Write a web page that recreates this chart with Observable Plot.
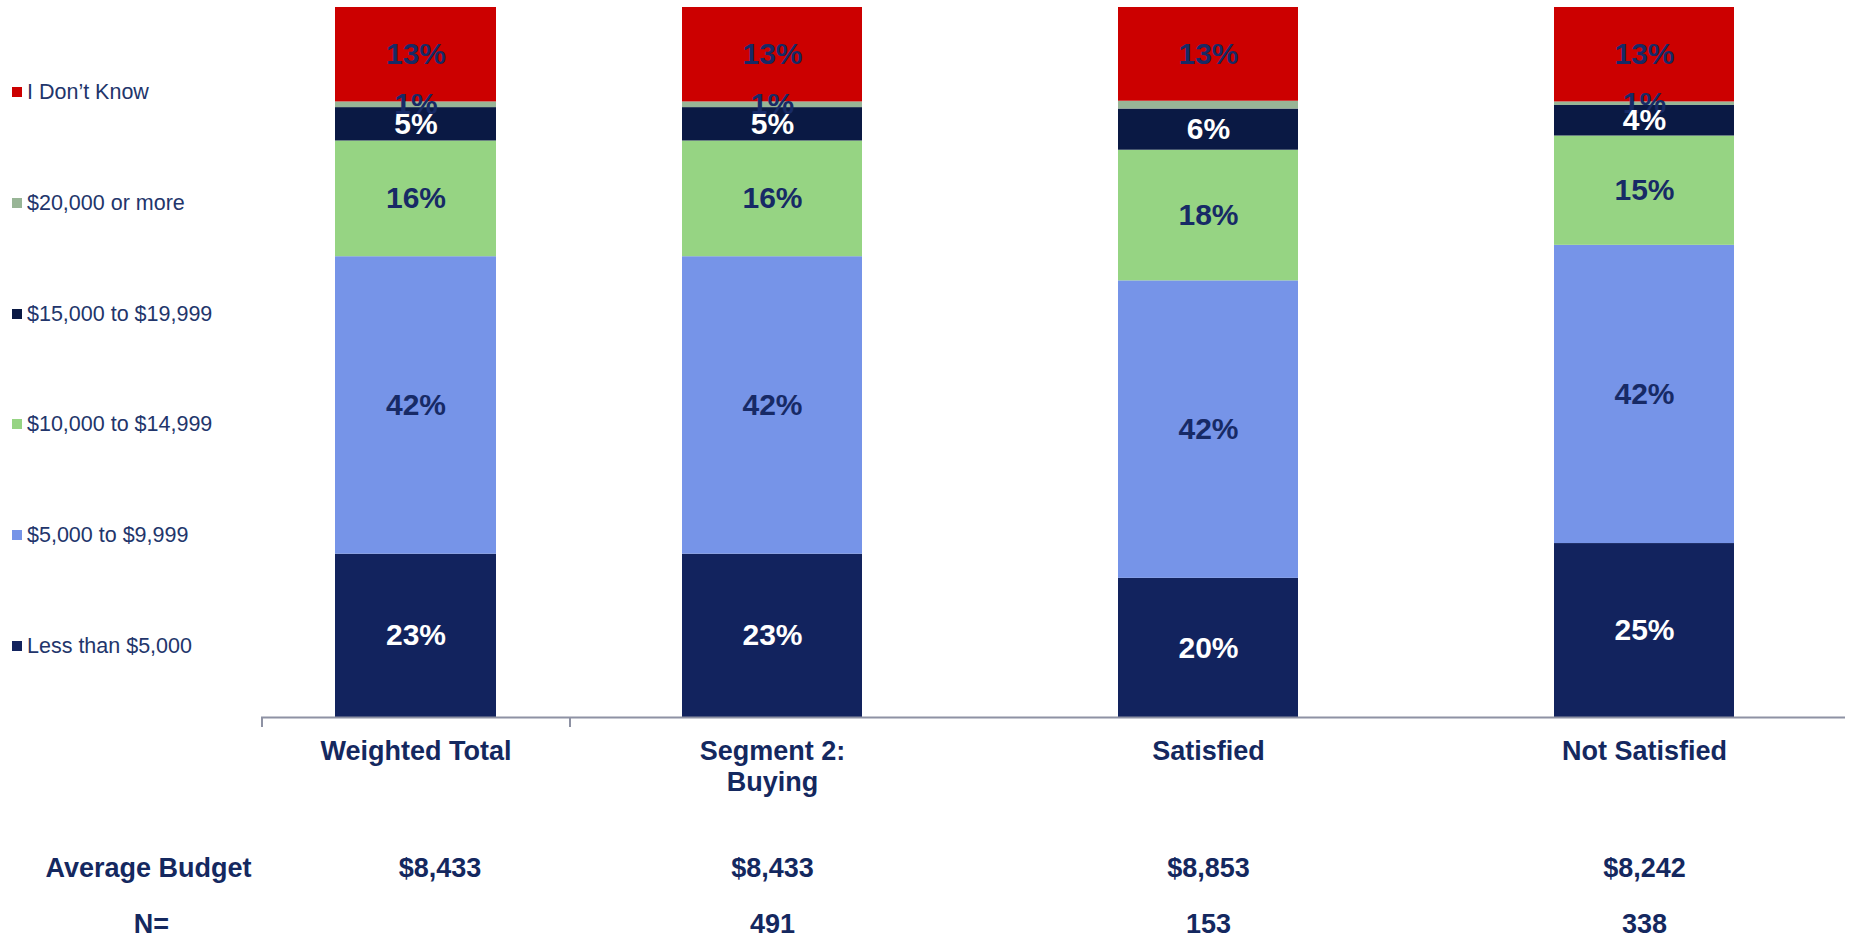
<!DOCTYPE html>
<html>
<head>
<meta charset="utf-8">
<script src="https://cdn.jsdelivr.net/npm/d3@7"></script>
<script src="https://cdn.jsdelivr.net/npm/@observablehq/plot@0.6"></script>
<style>
  body { margin: 0; background: #fff; font-family: "Liberation Sans", Arial, sans-serif; }
  #wrap { position: relative; width: 1853px; height: 939px; overflow: hidden; }
  #chartA { position: absolute; left: 0; top: 0; }
  #chartB { position: absolute; left: 571px; top: 0; }
  #legend { position: absolute; left: 0; top: 0; }
  .item { position: absolute; left: 12px; height: 24px; display: flex; align-items: center;
          font-size: 21.5px; color: #22356b; white-space: nowrap; }
  .sw { width: 10px; height: 10px; margin-right: 5px; flex: none; }
</style>
</head>
<body>
<div id="wrap">
  <div id="chartA"></div>
  <div id="chartB"></div>
  <div id="legend"></div>
</div>
<script>
// ---- data ----
const categories = ["Weighted Total", "Segment 2:\nBuying", "Satisfied", "Not Satisfied"];
const series = ["Less than $5,000", "$5,000 to $9,999", "$10,000 to $14,999",
                "$15,000 to $19,999", "$20,000 or more", "I Don’t Know"];
const lessThan5k   = [23.0, 23.0, 19.6, 24.5];
const from5kTo10k  = [41.9, 41.9, 41.9, 42.0];
const from10kTo15k = [16.3, 16.3, 18.4, 15.4];
const from15kTo20k = [4.7, 4.7, 5.8, 4.3];
const over20k      = [0.8, 0.8, 1.1, 0.5];
const dontKnow     = [13.3, 13.3, 13.2, 13.3];
const averageBudget = ["$8,433", "$8,433", "$8,853", "$8,242"];
const sampleN = ["", "491", "153", "338"];
const rowLabels = ["Average Budget", "N="];
const hiddenLabels = [["Satisfied", "$20,000 or more"]];

// ---- styles ----
const seriesColors = ["#12235e", "#7694e8", "#96d483", "#0a1944", "#98b596", "#cc0000"];
const whiteLabelSeries = ["Less than $5,000", "$15,000 to $19,999"];
const navy = "#14285f";
const labelNavy = "#172a66";
const axisColor = "#8e92a4";
const font = "'Liberation Sans', Arial, sans-serif";

// ---- build table ----
const seriesValues = [lessThan5k, from5kTo10k, from10kTo15k, from15kTo20k, over20k, dontKnow];
const rows = [];
categories.forEach((c, i) => {
  seriesValues.forEach((vals, j) => {
    const hidden = hiddenLabels.some(([hc, hs]) => hc === c && hs === series[j]);
    rows.push({category: c, series: series[j], value: vals[i],
               label: hidden ? "" : Math.round(vals[i]) + "%"});
  });
});
const tableRows = categories.map((c, i) => ({category: c, budget: averageBudget[i], n: sampleN[i]}));

function makeChart(cats, o) {
  const data = rows.filter(d => cats.includes(d.category));
  const table = tableRows.filter(d => cats.includes(d.category));
  const txt = {fontSize: 27, fontWeight: "bold", fill: navy};
  const extra = o.rowLabels ? [
    Plot.text([rowLabels[0]], {text: d => d, frameAnchor: "bottom-left", dx: -113, dy: 151,
      lineAnchor: "middle", textAnchor: "middle", ...txt}),
    Plot.text([rowLabels[1]], {text: d => d, frameAnchor: "bottom-left", dx: -110, dy: 207,
      lineAnchor: "middle", textAnchor: "middle", ...txt})
  ] : [];
  return Plot.plot({
    width: o.width, height: 939,
    marginTop: 7, marginBottom: 222, marginLeft: o.marginLeft, marginRight: o.marginRight,
    style: {fontFamily: font, background: "transparent", overflow: "visible"},
    x: {domain: cats, paddingInner: o.paddingInner, paddingOuter: o.paddingOuter, axis: null},
    y: {domain: [0, 100], axis: null},
    color: {domain: series, range: seriesColors},
    marks: [
      Plot.barY(data, {x: "category", y: "value", fill: "series", order: series}),
      Plot.text(data, Plot.stackY({x: "category", y: "value", z: "series", order: series,
        text: d => whiteLabelSeries.includes(d.series) ? "" : d.label,
        fill: labelNavy, fontSize: 30, fontWeight: "bold"})),
      Plot.text(data, Plot.stackY({x: "category", y: "value", z: "series", order: series,
        text: d => whiteLabelSeries.includes(d.series) ? d.label : "",
        fill: "white", fontSize: 30, fontWeight: "bold"})),
      Plot.ruleY([0], {stroke: axisColor, strokeWidth: 2}),
      Plot.text(cats, {x: d => d, text: d => d, frameAnchor: "bottom", lineAnchor: "top", dy: 20,
        lineHeight: 1.15, ...txt}),
      Plot.text(table, {x: "category", text: "budget", frameAnchor: "bottom", lineAnchor: "middle",
        dx: o.tableDx, dy: 151, ...txt}),
      Plot.text(table, {x: "category", text: "n", frameAnchor: "bottom", lineAnchor: "middle",
        dx: o.tableDx, dy: 207, ...txt}),
      ...extra
    ]
  });
}

const chartA = makeChart(categories.slice(0, 1),
  {width: 571, marginLeft: 261, marginRight: 0, paddingInner: 0.48, paddingOuter: 0.2285,
   tableDx: 24, rowLabels: true});
const chartB = makeChart(categories.slice(1),
  {width: 1282, marginLeft: 0, marginRight: 8, paddingInner: 0.588, paddingOuter: 0.255,
   tableDx: 0, rowLabels: false});

// axis end ticks of the first group
d3.select(chartA).append("g")
  .attr("stroke", axisColor).attr("stroke-width", 2)
  .selectAll("line").data([262, 570]).join("line")
  .attr("x1", d => d).attr("x2", d => d).attr("y1", 717).attr("y2", 727);

document.getElementById("chartA").append(chartA);
document.getElementById("chartB").append(chartB);

// legend (top-to-bottom in reverse stacking order)
const legendCenters = [92, 203, 314, 424, 535, 646];
const legend = document.getElementById("legend");
series.slice().reverse().forEach((s, k) => {
  const j = series.indexOf(s);
  const item = document.createElement("div");
  item.className = "item";
  item.style.top = (legendCenters[k] - 12) + "px";
  const sw = document.createElement("span");
  sw.className = "sw";
  sw.style.background = seriesColors[j];
  const t = document.createElement("span");
  t.textContent = s;
  item.append(sw, t);
  legend.append(item);
});
</script>
</body>
</html>
